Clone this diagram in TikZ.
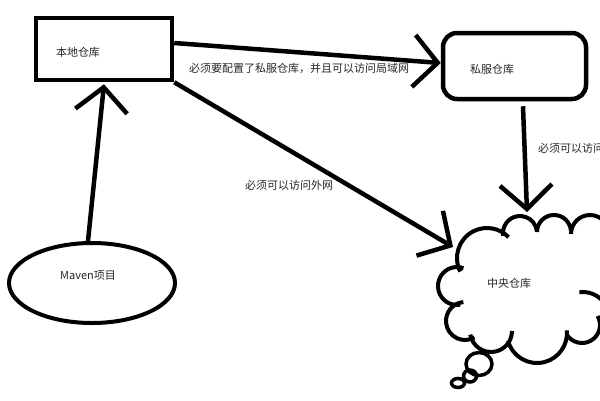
\documentclass[tikz,border=0pt]{standalone}
\usepackage{fontspec}
\setmainfont{Noto Sans CJK SC}
\usetikzlibrary{arrows.meta,shapes.geometric}
\tikzset{
  boxstyle/.style={draw, line width=4.5pt, inner sep=0pt},
  txt/.style={font=\fontsize{11}{13}\selectfont, text=black!85, inner sep=0pt},
  conn/.style={line width=4.5pt, -{Straight Barb[length=24pt,width=52pt]}},
  cloudline/.style={line width=4pt},
  bubble/.style={line width=3.5pt},
}
\newcommand{\lobe}[5]{\draw[cloudline] (#1,#2) ++(#4:#3) arc[start angle=#4, end angle=#5, radius=#3];}
\begin{document}
\begin{tikzpicture}[x=1pt,y=-1pt]
\useasboundingbox (0,0) rectangle (600,400);
\clip (0,0) rectangle (600,400);
% nodes
\node[boxstyle, minimum width=136pt, minimum height=62pt] (local) at (104,49) {};
\node[txt] (localtxt) at (78,52) {本地仓库};
\node[boxstyle, rounded corners=14pt, minimum width=143pt, minimum height=66pt] (priv) at (514.5,66) {};
\node[txt] (privtxt) at (492,69) {私服仓库};
\node[draw, ellipse, line width=4pt, minimum width=166pt, minimum height=80pt, inner sep=0pt] (maven) at (92,283) {};
\node[txt] (maventxt) at (88,276) {Maven项目};
\node[txt] (cloudtxt) at (509,283) {中央仓库};
\coordinate (cloudA) at (453,247);
\coordinate (cloudB) at (527,212);
% cloud
\lobe{487}{258}{30}{153}{316}
\lobe{520}{233}{17}{170}{355}
\lobe{554}{232}{17}{180}{355}
\lobe{590}{234}{19}{180}{360}
\lobe{583}{318}{26}{262}{345}
\lobe{582}{325}{18}{150}{-30}
\lobe{537}{333}{30}{165}{-5}
\lobe{491}{331}{21}{170}{0}
\lobe{465}{321}{19}{265}{60}
\lobe{457}{286}{19}{290}{80}
\draw[bubble] (479,364) ellipse [x radius=13, y radius=11.5];
\draw[bubble] (470,376) ellipse [x radius=6.5, y radius=6];
\draw[bubble] (458,383) ellipse [x radius=6.5, y radius=4.5];
% connectors
\draw[conn] ([yshift=6pt]local.east) -- ([yshift=3pt]priv.west);
\draw[conn] (local.south east) -- (cloudA);
\draw[conn] ([xshift=-4pt]maven.north) -- ([yshift=-2pt]local.south);
\draw[conn] ([xshift=8.5pt,yshift=-5pt]priv.south) -- (cloudB);
% labels
\node[txt] (l1) at (299,68) {必须要配置了私服仓库，并且可以访问局域网};
\node[txt] (l2) at (289,185) {必须可以访问外网};
\node[txt, anchor=west] (l3) at (538,148) {必须可以访问};
\end{tikzpicture}
\end{document}
